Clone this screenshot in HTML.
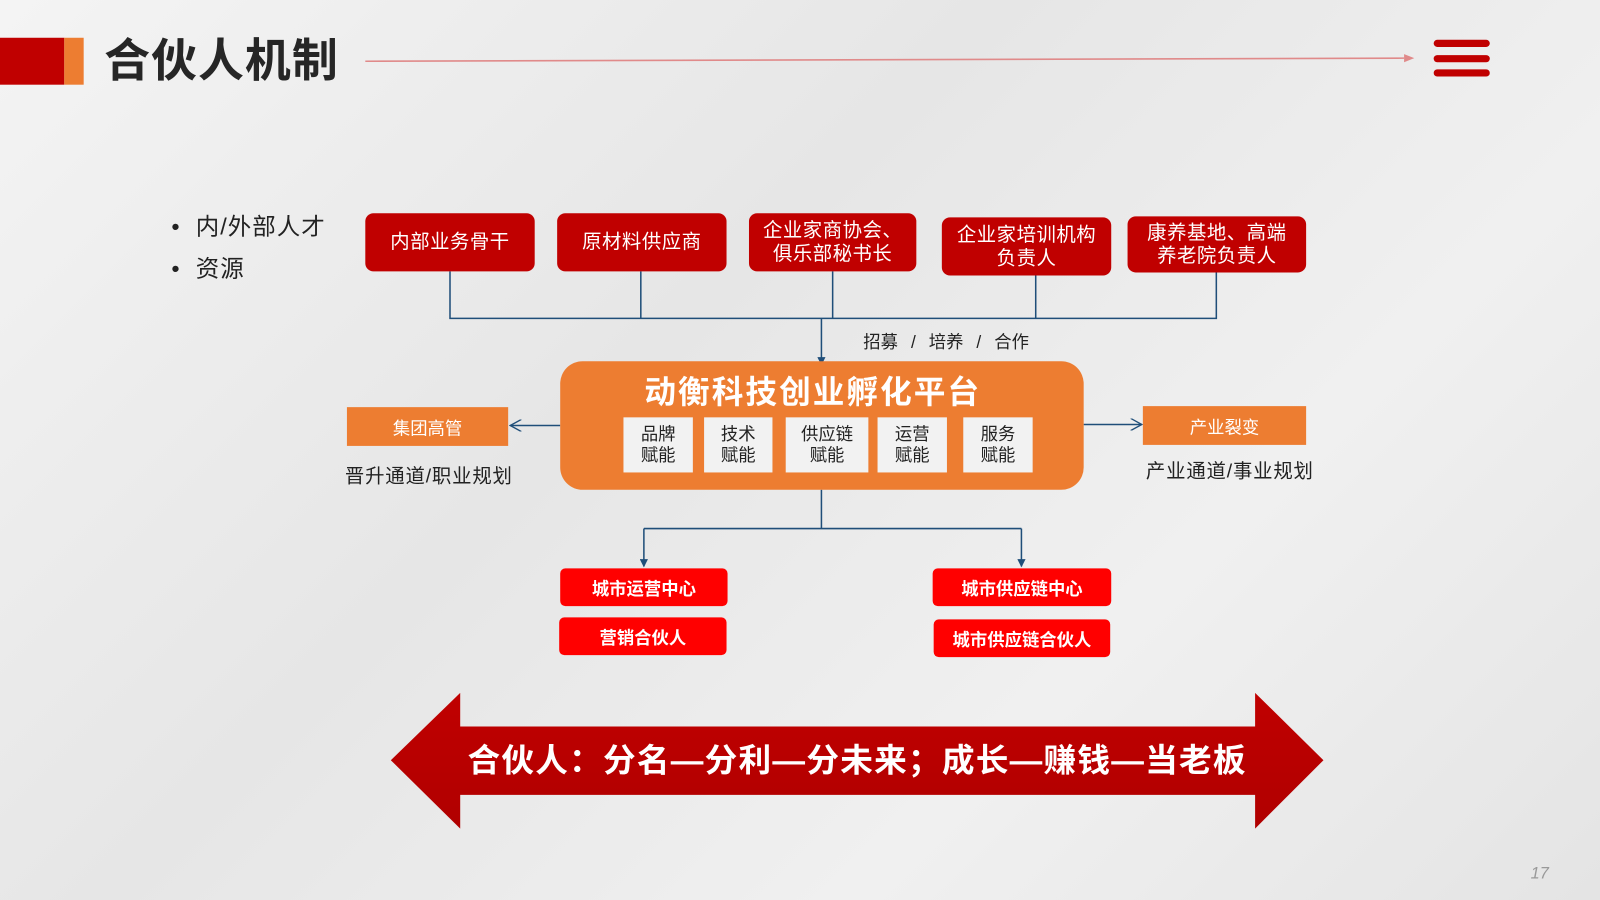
<!DOCTYPE html>
<html><head><meta charset="utf-8"><style>
html,body{margin:0;padding:0;width:1600px;height:900px;overflow:hidden;}
body{background:linear-gradient(135deg,#f4f4f4 0%,#e6e6e6 40%,#f0f0f0 70%,#e4e4e4 100%);font-family:"Liberation Sans","Noto Sans CJK SC",sans-serif;}
#w{position:absolute;left:0;top:0;width:1568px;height:882px;transform:scale(1.020408);transform-origin:0 0;}
.a{position:absolute;box-sizing:border-box;}
.top{background:#c00000;color:#fff;border-radius:8px;font-size:19px;line-height:23px;text-align:center;display:flex;align-items:center;justify-content:center;letter-spacing:0.5px;}
.sm{background:#f2f2f2;color:#222;font-size:17px;line-height:21px;text-align:center;display:flex;align-items:center;justify-content:center;}
.or{background:#ed7d31;color:#fff;font-size:17px;display:flex;align-items:center;justify-content:center;}
.rd{background:#ff0000;color:#fff;font-weight:bold;font-size:17px;border-radius:5px;display:flex;align-items:center;justify-content:center;}
.t{position:absolute;white-space:nowrap;color:#222;}
</style></head><body><div id="w">
<div class="a" style="left:0;top:37px;width:63px;height:46px;background:#c00000"></div>
<div class="a" style="left:63px;top:37px;width:19px;height:46px;background:#ed7d31"></div>
<div class="t" style="left:102px;top:30px;font-size:45px;letter-spacing:1px;font-weight:bold;color:#262626;line-height:60px">合伙人机制</div>
<div class="a" style="left:1405px;top:39px;width:55px;height:7px;background:#c00000;border-radius:4px"></div>
<div class="a" style="left:1405px;top:54px;width:55px;height:7px;background:#c00000;border-radius:4px"></div>
<div class="a" style="left:1405px;top:68px;width:55px;height:7px;background:#c00000;border-radius:4px"></div>

<svg class="a" style="left:0;top:0" width="1568" height="882">
<defs><marker id="m" markerWidth="8" markerHeight="8" refX="7" refY="4" orient="auto" markerUnits="userSpaceOnUse"><path d="M0,0L8,4L0,8z" fill="#1f4e79"/></marker>
<marker id="o" markerWidth="12" markerHeight="12" refX="11" refY="6" orient="auto" markerUnits="userSpaceOnUse"><path d="M0,0L11,6L0,12" fill="none" stroke="#1f4e79" stroke-width="1.3"/></marker>
<linearGradient id="g" x1="0" y1="0" x2="0" y2="1"><stop offset="0" stop-color="#c00000"/><stop offset="1" stop-color="#b00000"/></linearGradient></defs>
<line x1="358" y1="60" x2="1376" y2="57" stroke="#e08a8a" stroke-width="1.5"/>
<path d="M1376,53L1386,57L1376,61z" fill="#e08a8a"/>
<g stroke="#1f4e79" stroke-width="1.5" fill="none">
<path d="M441,266V312H1192V267M628,266V312M816,266V312M1015,270V312"/>
<line x1="805" y1="312" x2="805" y2="357" marker-end="url(#m)"/>
<path d="M805,480V518H1001M631,518H805"/>
<line x1="631" y1="518" x2="631" y2="555" marker-end="url(#m)"/>
<line x1="1001" y1="518" x2="1001" y2="555" marker-end="url(#m)"/>
<line x1="549" y1="417" x2="500" y2="417" marker-end="url(#o)"/>
<line x1="1062" y1="416" x2="1119" y2="416" marker-end="url(#o)"/>
</g>
<path d="M383,745L451,679V712H1230V679L1297,745L1230,812V779H451V812z" fill="url(#g)"/>
</svg>

<div class="t" style="left:168px;top:207px;font-size:23px;letter-spacing:1px;line-height:30px">•&nbsp;&nbsp;内/外部人才</div>
<div class="t" style="left:168px;top:248px;font-size:23px;letter-spacing:1px;line-height:30px">•&nbsp;&nbsp;资源</div>

<div class="a top" style="left:358px;top:209px;width:166px;height:57px">内部业务骨干</div>
<div class="a top" style="left:546px;top:209px;width:166px;height:57px">原材料供应商</div>
<div class="a top" style="left:734px;top:209px;width:164px;height:57px">企业家商协会、<br>俱乐部秘书长</div>
<div class="a top" style="left:923px;top:213px;width:166px;height:57px">企业家培训机构<br>负责人</div>
<div class="a top" style="left:1105px;top:212px;width:175px;height:55px">康养基地、高端<br>养老院负责人</div>

<div class="t" style="left:846px;top:325px;font-size:17px;line-height:22px;word-spacing:8px">招募 / 培养 / 合作</div>

<div class="a" style="left:549px;top:354px;width:513px;height:126px;background:#ed7d31;border-radius:22px"></div>
<div class="t" style="left:549px;width:495px;top:364px;text-align:center;font-size:31px;letter-spacing:2px;font-weight:bold;color:#fff;line-height:42px">动衡科技创业孵化平台</div>
<div class="a sm" style="left:611px;top:409px;width:68px;height:54px">品牌<br>赋能</div>
<div class="a sm" style="left:690px;top:409px;width:67px;height:54px">技术<br>赋能</div>
<div class="a sm" style="left:770px;top:409px;width:81px;height:54px">供应链<br>赋能</div>
<div class="a sm" style="left:860px;top:409px;width:68px;height:54px">运营<br>赋能</div>
<div class="a sm" style="left:944px;top:409px;width:68px;height:54px">服务<br>赋能</div>

<div class="a or" style="left:340px;top:399px;width:158px;height:38px">集团高管</div>
<div class="t" style="left:338px;top:456px;font-size:19px;letter-spacing:0.8px;line-height:24px">晋升通道/职业规划</div>
<div class="a or" style="left:1120px;top:398px;width:160px;height:38px">产业裂变</div>
<div class="t" style="left:1123px;top:451px;font-size:19px;letter-spacing:0.8px;line-height:24px">产业通道/事业规划</div>

<div class="a rd" style="left:549px;top:557px;width:164px;height:37px">城市运营中心</div>
<div class="a rd" style="left:548px;top:605px;width:164px;height:37px">营销合伙人</div>
<div class="a rd" style="left:914px;top:557px;width:175px;height:37px">城市供应链中心</div>
<div class="a rd" style="left:915px;top:607px;width:173px;height:37px">城市供应链合伙人</div>

<div class="t" style="left:383px;width:914px;top:723px;text-align:center;font-size:32px;letter-spacing:1.2px;font-weight:bold;color:#fff;line-height:44px">合伙人：分名—分利—分未来；成长—赚钱—当老板</div>
<div class="t" style="left:1500px;top:848px;font-size:16px;font-style:italic;color:#999">17</div>
</div></body></html>
